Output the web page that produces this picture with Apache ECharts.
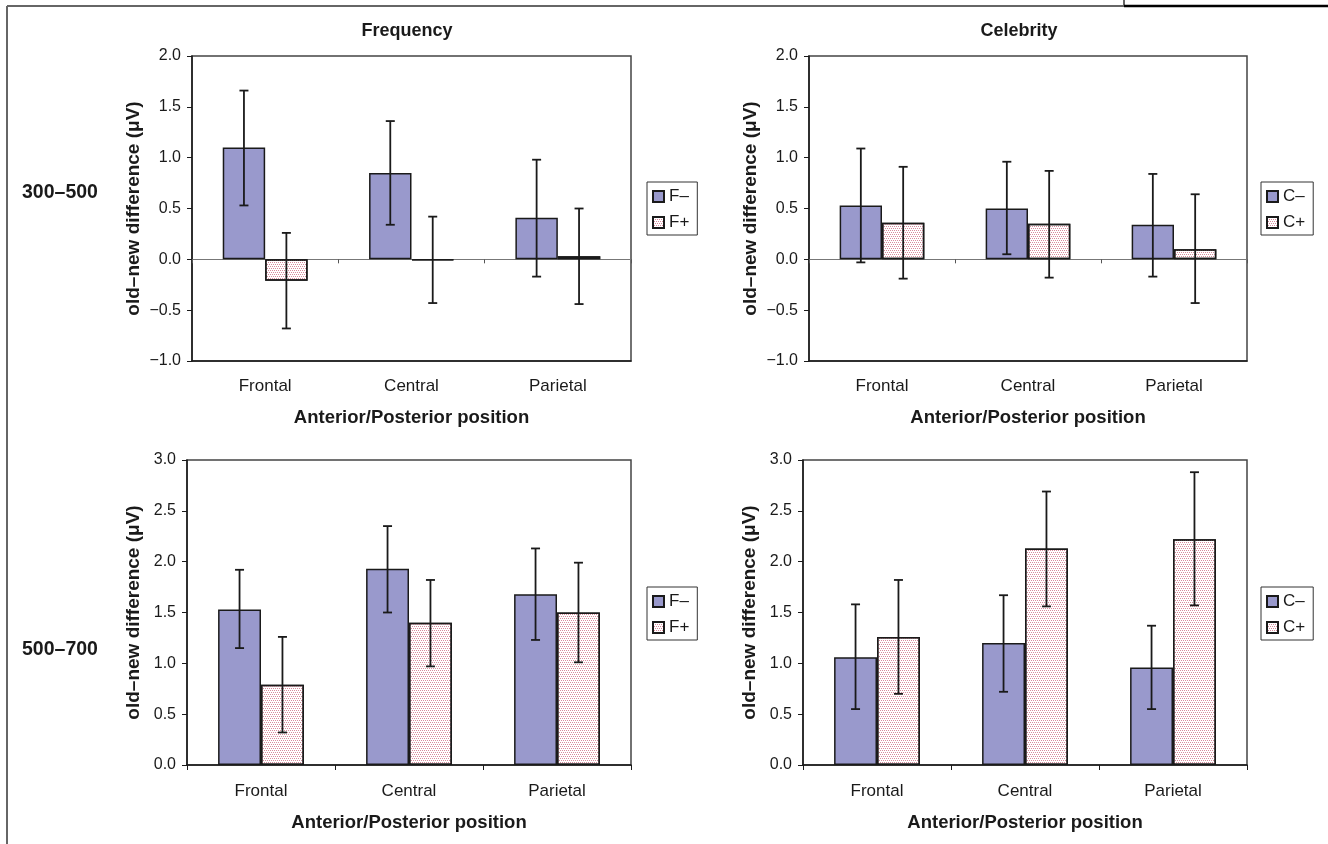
<!DOCTYPE html>
<html>
<head>
<meta charset="utf-8">
<script src="https://cdn.jsdelivr.net/npm/echarts@6/dist/echarts.min.js"></script>
<style>
html,body{margin:0;padding:0;background:#fff;}
#chart{width:1328px;height:844px;}
</style>
</head>
<body>
<div id="chart"></div>
<script>
// ---------- data ----------
const categories = ['Frontal', 'Central', 'Parietal'];
const yTicksEarly = [-1.0, -0.5, 0.0, 0.5, 1.0, 1.5, 2.0];
const yTicksLate = [0.0, 0.5, 1.0, 1.5, 2.0, 2.5, 3.0];

// 300–500 ms, Frequency
const freqEarlyMinus   = [1.10, 0.85, 0.41];
const freqEarlyMinusLo = [0.53, 0.34, -0.17];
const freqEarlyMinusHi = [1.66, 1.36, 0.98];
const freqEarlyPlus    = [-0.21, -0.01, 0.03];
const freqEarlyPlusLo  = [-0.68, -0.43, -0.44];
const freqEarlyPlusHi  = [0.26, 0.42, 0.50];

// 300–500 ms, Celebrity
const celebEarlyMinus   = [0.53, 0.50, 0.34];
const celebEarlyMinusLo = [-0.03, 0.05, -0.17];
const celebEarlyMinusHi = [1.09, 0.96, 0.84];
const celebEarlyPlus    = [0.36, 0.35, 0.10];
const celebEarlyPlusLo  = [-0.19, -0.18, -0.43];
const celebEarlyPlusHi  = [0.91, 0.87, 0.64];

// 500–700 ms, Frequency
const freqLateMinus   = [1.53, 1.93, 1.68];
const freqLateMinusLo = [1.15, 1.50, 1.23];
const freqLateMinusHi = [1.92, 2.35, 2.13];
const freqLatePlus    = [0.79, 1.40, 1.50];
const freqLatePlusLo  = [0.32, 0.97, 1.01];
const freqLatePlusHi  = [1.26, 1.82, 1.99];

// 500–700 ms, Celebrity
const celebLateMinus   = [1.06, 1.20, 0.96];
const celebLateMinusLo = [0.55, 0.72, 0.55];
const celebLateMinusHi = [1.58, 1.67, 1.37];
const celebLatePlus    = [1.26, 2.13, 2.22];
const celebLatePlusLo  = [0.70, 1.56, 1.57];
const celebLatePlusHi  = [1.82, 2.69, 2.88];

const panelTitles = ['Frequency', 'Celebrity'];
const rowLabels = ['300\u2013500', '500\u2013700'];
const yName = 'old\u2013new difference (\u03bcV)';
const xName = 'Anterior/Posterior position';
const freqNames = ['F\u2013', 'F+'];
const celebNames = ['C\u2013', 'C+'];

// ---------- styles ----------
const FONT = '"Liberation Sans", Arial, sans-serif';
const TXT = '#1a1a1a';
const CAT_GAP = 0.42;
const minusStyle = { color: '#9999cc', borderColor: '#1a1a1a', borderWidth: 1.5 };
const plusStyle = {
  color: '#ffffff', borderColor: '#1a1a1a', borderWidth: 1.5,
  decal: { symbol: 'rect', symbolSize: 1, color: '#d98a9c',
           dashArrayX: [[1, 1], [0, 1, 1, 0]], dashArrayY: [1, 1], rotation: 0 }
};

const grids = [
  { left: 192, top: 56, width: 439, height: 305 },
  { left: 809, top: 56, width: 438, height: 305 },
  { left: 187, top: 460, width: 444, height: 305 },
  { left: 803, top: 460, width: 444, height: 305 }
].map(g => Object.assign({ show: true, borderColor: '#444', borderWidth: 1.5, backgroundColor: 'transparent' }, g));

function fmt(v) { return v < 0 ? '\u2212' + Math.abs(v).toFixed(1) : v.toFixed(1); }

function mainX(gi, early) {
  return {
    type: 'category', gridIndex: gi, data: categories, position: 'bottom',
    axisLine: { show: true, onZero: false, lineStyle: { color: '#1a1a1a', width: 1.5 } },
    axisTick: { show: !early, length: 5, lineStyle: { color: '#1a1a1a', width: 1 } },
    axisLabel: { color: TXT, fontFamily: FONT, fontSize: 17, margin: early ? 17 : 18 },
    name: xName, nameLocation: 'middle', nameGap: early ? 47 : 48,
    nameTextStyle: { color: TXT, fontFamily: FONT, fontSize: 18.5, fontWeight: 'bold' },
    splitLine: { show: false }
  };
}
function zeroX(gi) {
  return {
    type: 'category', gridIndex: gi, data: categories, position: 'top',
    axisLine: { show: true, onZero: true, lineStyle: { color: '#777', width: 1 } },
    axisTick: { show: true, inside: true, length: 4, lineStyle: { color: '#555', width: 1 } },
    axisLabel: { show: false }, splitLine: { show: false }
  };
}
function yAx(gi, early, gap) {
  const ticks = early ? yTicksEarly : yTicksLate;
  return {
    type: 'value', gridIndex: gi, min: ticks[0], max: ticks[ticks.length - 1], interval: 0.5,
    axisLine: { show: true, onZero: false, lineStyle: { color: '#1a1a1a', width: 1.5 } },
    axisTick: { show: true, length: 5, lineStyle: { color: '#1a1a1a', width: 1 } },
    axisLabel: { color: TXT, fontFamily: FONT, fontSize: 16, margin: 11, formatter: fmt },
    splitLine: { show: false },
    name: yName, nameLocation: 'middle', nameGap: gap,
    nameTextStyle: { color: TXT, fontFamily: FONT, fontSize: 19, fontWeight: 'bold' }
  };
}

function barSeries(name, vals, style, gi) {
  return {
    type: 'bar', name: name, xAxisIndex: gi, yAxisIndex: gi, data: vals,
    barCategoryGap: (CAT_GAP * 100) + '%', barGap: '0%', itemStyle: style,
    emphasis: { disabled: true }, z: 2
  };
}
function errSeries(lo, hi, side, gi) {
  return {
    type: 'custom', xAxisIndex: gi, yAxisIndex: gi, z: 5, silent: true,
    data: categories.map((c, i) => [i, lo[i], hi[i]]),
    encode: { x: 0, y: [1, 2] },
    renderItem: function (params, api) {
      const i = api.value(0);
      const pHi = api.coord([i, api.value(2)]);
      const pLo = api.coord([i, api.value(1)]);
      const catW = api.size([1, 0])[0];
      const bw = catW * (1 - CAT_GAP) / 2;
      const x = pHi[0] + side * bw / 2;
      const cap = 4.5;
      const st = { stroke: '#1a1a1a', lineWidth: 1.8 };
      return {
        type: 'group', children: [
          { type: 'line', shape: { x1: x, y1: pHi[1], x2: x, y2: pLo[1] }, style: st },
          { type: 'line', shape: { x1: x - cap, y1: pHi[1], x2: x + cap, y2: pHi[1] }, style: st },
          { type: 'line', shape: { x1: x - cap, y1: pLo[1], x2: x + cap, y2: pLo[1] }, style: st }
        ]
      };
    }
  };
}

function legend(names, left, top) {
  return {
    orient: 'vertical', left: left, top: top, data: names,
    borderColor: '#333', borderWidth: 1, padding: [6, 8, 4, 5],
    itemWidth: 11, itemHeight: 11, itemGap: 9, icon: 'rect',
    selectedMode: false,
    textStyle: { color: TXT, fontFamily: FONT, fontSize: 17, lineHeight: 17 }
  };
}

const option = {
  animation: false,
  backgroundColor: '#ffffff',
  grid: grids,
  xAxis: [mainX(0, true), mainX(1, true), mainX(2, false), mainX(3, false), zeroX(0), zeroX(1)],
  yAxis: [yAx(0, true, 49), yAx(1, true, 49), yAx(2, false, 44), yAx(3, false, 44)],
  legend: [
    legend(freqNames, 647, 182),
    legend(celebNames, 1261, 182),
    legend(freqNames, 647, 587),
    legend(celebNames, 1261, 587)
  ],
  series: [
    barSeries(freqNames[0], freqEarlyMinus, minusStyle, 0),
    barSeries(freqNames[1], freqEarlyPlus, plusStyle, 0),
    errSeries(freqEarlyMinusLo, freqEarlyMinusHi, -1, 0),
    errSeries(freqEarlyPlusLo, freqEarlyPlusHi, 1, 0),

    barSeries(celebNames[0], celebEarlyMinus, minusStyle, 1),
    barSeries(celebNames[1], celebEarlyPlus, plusStyle, 1),
    errSeries(celebEarlyMinusLo, celebEarlyMinusHi, -1, 1),
    errSeries(celebEarlyPlusLo, celebEarlyPlusHi, 1, 1),

    barSeries(freqNames[0], freqLateMinus, minusStyle, 2),
    barSeries(freqNames[1], freqLatePlus, plusStyle, 2),
    errSeries(freqLateMinusLo, freqLateMinusHi, -1, 2),
    errSeries(freqLatePlusLo, freqLatePlusHi, 1, 2),

    barSeries(celebNames[0], celebLateMinus, minusStyle, 3),
    barSeries(celebNames[1], celebLatePlus, plusStyle, 3),
    errSeries(celebLateMinusLo, celebLateMinusHi, -1, 3),
    errSeries(celebLatePlusLo, celebLatePlusHi, 1, 3)
  ],
  graphic: [
    // page frame
    { type: 'line', shape: { x1: 7, y1: 6, x2: 1124, y2: 6 }, style: { stroke: '#666', lineWidth: 2 }, silent: true },
    { type: 'line', shape: { x1: 7, y1: 6, x2: 7, y2: 844 }, style: { stroke: '#666', lineWidth: 2 }, silent: true },
    { type: 'line', shape: { x1: 1124, y1: 0, x2: 1124, y2: 6 }, style: { stroke: '#666', lineWidth: 2 }, silent: true },
    { type: 'line', shape: { x1: 1124, y1: 6, x2: 1328, y2: 6 }, style: { stroke: '#000', lineWidth: 2.5 }, silent: true },
    // panel titles
    { type: 'text', x: 407, y: 31, style: { text: panelTitles[0], font: 'bold 18px ' + FONT, fill: TXT, textAlign: 'center', textVerticalAlign: 'middle' } },
    { type: 'text', x: 1019, y: 31, style: { text: panelTitles[1], font: 'bold 18px ' + FONT, fill: TXT, textAlign: 'center', textVerticalAlign: 'middle' } },
    // row labels
    { type: 'text', x: 22, y: 193, style: { text: rowLabels[0], font: 'bold 19.5px ' + FONT, fill: TXT, textAlign: 'left', textVerticalAlign: 'middle' } },
    { type: 'text', x: 22, y: 650, style: { text: rowLabels[1], font: 'bold 19.5px ' + FONT, fill: TXT, textAlign: 'left', textVerticalAlign: 'middle' } }
  ]
};

const chart = echarts.init(document.getElementById('chart'), null, { renderer: 'canvas' });
chart.setOption(option);
</script>
</body>
</html>
